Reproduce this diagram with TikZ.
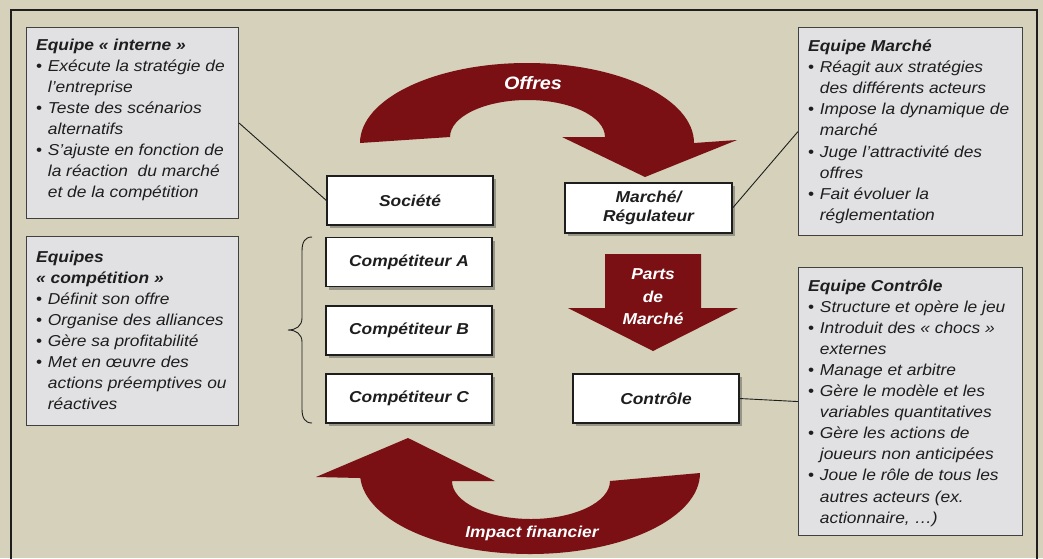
\documentclass[tikz,border=0pt]{standalone}
\usepackage{fontspec}
\setmainfont{Liberation Sans}[FakeStretch=1.1]
\usetikzlibrary{shadows}
\definecolor{bg}{RGB}{213,209,186}
\definecolor{darkred}{RGB}{122,16,20}
\definecolor{boxgray}{RGB}{225,225,228}
\definecolor{ink}{RGB}{30,30,30}
\newcommand\bl[1]{\par\hangindent=11.7pt\hangafter=1\noindent\makebox[11.7pt][l]{\upshape\textbullet}#1\par}
\newcommand\ttl[1]{\par\noindent{\bfseries #1}\par}
\newcommand\teamtext[1]{\vtop{\hsize=250pt\parindent=0pt\rightskip=0pt plus 1fil\fontsize{15.8}{21.1}\selectfont\itshape #1}}
\tikzset{
  teambox/.style={draw=ink!85, fill=boxgray, line width=1.1pt, anchor=north west, inner sep=0pt},
  teamtxt/.style={anchor=base west, inner sep=0pt, text=ink},
  wbox/.style={draw=ink, fill=white, line width=1.2pt, minimum width=166pt, minimum height=49pt,
    drop shadow={shadow xshift=3pt, shadow yshift=-3pt, fill=black!70, opacity=0.45},
    font=\fontsize{15.8}{19}\selectfont\bfseries\itshape, text=ink, align=center, inner sep=0pt},
  redtxt/.style={text=white, font=\fontsize{15.8}{22.5}\selectfont\bfseries\itshape, align=center, inner sep=0pt},
  link/.style={draw=ink, line width=0.9pt}
}
\begin{document}
\begin{tikzpicture}[x=1pt,y=1pt]
\useasboundingbox (0,0) rectangle (1043,-558);
\fill[bg] (0,0) rectangle (1043,-558);
\draw[ink, line width=2.6pt] (11,-10) rectangle (1037,-600);

% curved arrows
\fill[darkred] (360,-143) arc[start angle=180,end angle=0,x radius=167,y radius=80]
  -- (737,-140) -- (645,-177) -- (562,-137) -- (605,-137)
  arc[start angle=0,end angle=180,x radius=77.5,y radius=37] -- cycle;
\node[redtxt, font=\fontsize{18}{20}\selectfont\bfseries\itshape] (offres) at (533,-83) {Offres};

\fill[darkred] (360,-478) -- (316,-477) -- (408,-438) -- (495,-481) -- (452,-481)
  arc[start angle=180,end angle=360,x radius=79,y radius=38]
  -- (700,-473) arc[start angle=0,end angle=-180,x radius=170,y radius=81] -- cycle;
\node[redtxt] (impact) at (532,-533) {Impact financier};

\fill[darkred] (605,-254) -- (701,-254) -- (701,-308) -- (738,-308) -- (653,-351) -- (568,-308) -- (605,-308) -- cycle;
\node[redtxt] (parts) at (653,-297) {Parts\\de\\Marché};

% team boxes
\node[teambox, minimum width=212pt, minimum height=191pt] (tint) at (26,-27) {};
\node[teamtxt] (tinttxt) at (36,-50) {\teamtext{%
\ttl{Equipe « interne »}
\bl{Exécute la stratégie de\\l’entreprise}
\bl{Teste des scénarios\\alternatifs}
\bl{S’ajuste en fonction de\\la réaction\ \ du marché\\et de la compétition}}};

\node[teambox, minimum width=212pt, minimum height=189pt] (tcomp) at (26,-236) {};
\node[teamtxt] (tcomptxt) at (36,-262) {\teamtext{%
\ttl{Equipes}
\ttl{« compétition »}
\bl{Définit son offre}
\bl{Organise des alliances}
\bl{Gère sa profitabilité}
\bl{Met en œuvre des\\actions préemptives ou\\réactives}}};

\node[teambox, minimum width=224pt, minimum height=208pt] (tmar) at (798,-27) {};
\node[teamtxt] (tmartxt) at (808,-51.5) {\teamtext{%
\ttl{Equipe Marché}
\bl{Réagit aux stratégies\\des différents acteurs}
\bl{Impose la dynamique de\\marché}
\bl{Juge l’attractivité des\\offres}
\bl{Fait évoluer la\\réglementation}}};

\node[teambox, minimum width=224pt, minimum height=268pt] (tctl) at (798,-267) {};
\node[teamtxt] (tctltxt) at (808,-291) {\teamtext{%
\ttl{Equipe Contrôle}
\bl{Structure et opère le jeu}
\bl{Introduit des « chocs »\\externes}
\bl{Manage et arbitre}
\bl{Gère le modèle et les\\variables quantitatives}
\bl{Gère les actions de\\joueurs non anticipées}
\bl{Joue le rôle de tous les\\autres acteurs (ex.\\actionnaire, …)}}};

% white boxes
\node[wbox] (soc) at (410,-200.5) {Société};
\node[wbox, minimum width=167pt, minimum height=50pt] (mar) at (648.5,-208) {Marché/\\Régulateur};
\node[wbox] (ca) at (409,-262) {Compétiteur A};
\node[wbox] (cb) at (409,-330.5) {Compétiteur B};
\node[wbox] (cc) at (409,-398.5) {Compétiteur C};
\node[wbox] (ctl) at (656,-398.5) {Contrôle};

% connectors
\draw[link] (tint.east) -- (soc.west);
\draw[link] (mar.east) -- (tmar.west);
\draw[link] (ctl.east) -- (tctl.west);

% brace
\draw[ink, line width=0.9pt] (312,-237) .. controls (305,-237) and (302,-242) .. (302,-251)
  -- (302,-318) .. controls (302,-326) and (296,-330) .. (288,-330)
  .. controls (296,-330) and (302,-334) .. (302,-342)
  -- (302,-409) .. controls (302,-418) and (305,-423) .. (312,-423);
\end{tikzpicture}
\end{document}
